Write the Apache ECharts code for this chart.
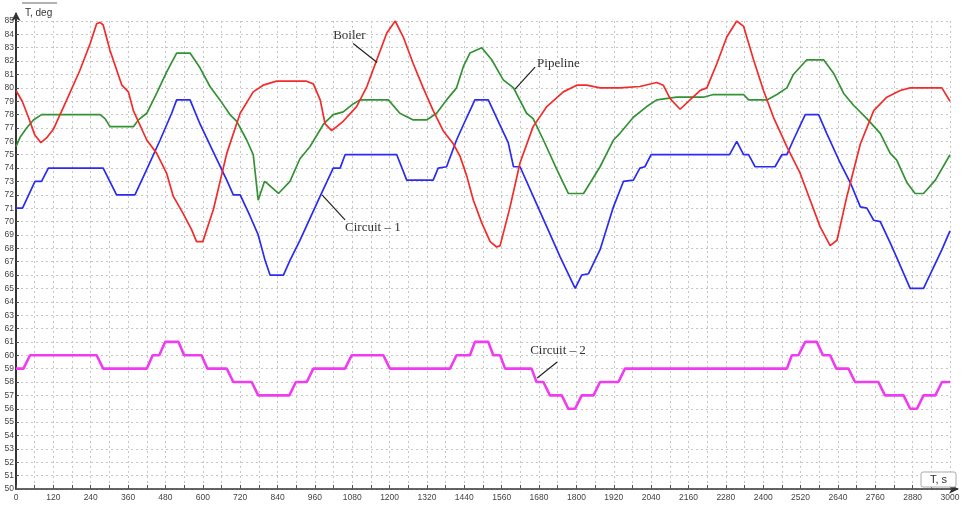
<!DOCTYPE html>
<html>
<head>
<meta charset="utf-8">
<script src="https://cdn.jsdelivr.net/npm/echarts@6/dist/echarts.min.js"></script>
<style>
  html, body { margin: 0; padding: 0; background: #fff; }
  #chart { width: 963px; height: 507px; }
</style>
</head>
<body>
<div id="chart"></div>
<script>
// time, s  /  temperature, deg
const boilerTime = [0, 20, 40, 60, 80, 100, 120, 163, 205, 238, 259, 270, 280, 302, 340, 361, 377, 420, 452, 484, 505, 537, 564, 580, 600, 634, 677, 720, 762, 794, 837, 933, 955, 977, 993, 1014, 1051, 1094, 1127, 1159, 1191, 1218, 1244, 1276, 1308, 1340, 1372, 1405, 1426, 1448, 1469, 1496, 1523, 1544, 1555, 1587, 1619, 1661, 1705, 1758, 1801, 1833, 1876, 1940, 2004, 2058, 2079, 2101, 2133, 2165, 2197, 2219, 2251, 2283, 2315, 2337, 2369, 2401, 2433, 2476, 2519, 2551, 2583, 2615, 2637, 2669, 2712, 2755, 2797, 2840, 2872, 2974, 3000];
const boilerTemp = [79.8, 79.0, 77.8, 76.5, 75.9, 76.3, 76.9, 79.1, 81.3, 83.3, 84.8, 84.9, 84.7, 82.8, 80.2, 79.7, 78.3, 76.1, 75.1, 73.6, 71.9, 70.6, 69.4, 68.5, 68.5, 70.9, 75.1, 78.1, 79.7, 80.2, 80.5, 80.5, 80.3, 79.1, 77.3, 76.8, 77.5, 78.6, 80.1, 82.1, 84.1, 85.0, 83.8, 81.8, 80.0, 78.3, 76.8, 75.8, 74.9, 73.4, 71.6, 69.9, 68.5, 68.1, 68.2, 71.1, 74.4, 77.1, 78.6, 79.7, 80.2, 80.2, 80.0, 80.0, 80.1, 80.4, 80.2, 79.2, 78.4, 79.1, 79.8, 80.0, 81.8, 83.8, 85.0, 84.6, 82.1, 79.8, 77.8, 75.6, 73.6, 71.6, 69.6, 68.2, 68.6, 71.9, 75.8, 78.3, 79.3, 79.8, 80.0, 80.0, 79.0];

const pipelineTime = [0, 13, 34, 56, 82, 270, 286, 302, 377, 393, 420, 452, 484, 516, 559, 591, 623, 655, 687, 709, 741, 762, 778, 798, 805, 843, 880, 912, 944, 988, 1019, 1051, 1083, 1105, 1196, 1233, 1276, 1319, 1351, 1383, 1415, 1437, 1458, 1496, 1528, 1565, 1598, 1640, 1661, 1694, 1737, 1774, 1823, 1876, 1919, 1940, 1983, 2026, 2058, 2122, 2208, 2240, 2337, 2353, 2412, 2444, 2476, 2497, 2540, 2594, 2626, 2658, 2690, 2733, 2776, 2808, 2829, 2862, 2888, 2915, 2953, 3000];
const pipelineTemp = [75.6, 76.3, 77.0, 77.6, 78.0, 78.0, 77.7, 77.1, 77.1, 77.6, 78.1, 79.6, 81.2, 82.6, 82.6, 81.5, 80.1, 79.1, 78.0, 77.5, 76.1, 75.0, 71.6, 73.0, 72.9, 72.1, 73.0, 74.7, 75.6, 77.3, 78.0, 78.2, 78.8, 79.1, 79.1, 78.1, 77.6, 77.6, 78.1, 79.1, 80.0, 81.6, 82.6, 83.0, 82.1, 80.6, 80.0, 78.1, 77.7, 76.1, 73.9, 72.1, 72.1, 74.1, 76.1, 76.6, 77.8, 78.6, 79.1, 79.3, 79.3, 79.5, 79.5, 79.1, 79.1, 79.5, 80.0, 81.0, 82.1, 82.1, 81.1, 79.6, 78.7, 77.7, 76.6, 75.1, 74.6, 72.9, 72.1, 72.1, 73.1, 75.0];

const circuit1Time = [0, 21, 61, 82, 104, 280, 323, 382, 420, 463, 500, 516, 559, 591, 634, 677, 698, 720, 752, 778, 800, 816, 859, 880, 912, 977, 1019, 1041, 1057, 1223, 1255, 1340, 1356, 1383, 1415, 1448, 1474, 1517, 1555, 1581, 1598, 1619, 1661, 1705, 1747, 1796, 1817, 1839, 1876, 1919, 1951, 1983, 2004, 2020, 2040, 2292, 2315, 2337, 2353, 2374, 2438, 2460, 2476, 2497, 2535, 2578, 2604, 2647, 2680, 2712, 2733, 2755, 2776, 2808, 2829, 2872, 2915, 2974, 3000];
const circuit1Temp = [71.0, 71.0, 73.0, 73.0, 74.0, 74.0, 72.0, 72.0, 73.9, 76.1, 78.1, 79.1, 79.1, 77.3, 75.2, 73.1, 72.0, 72.0, 70.4, 69.0, 67.1, 66.0, 66.0, 67.1, 68.6, 71.9, 74.0, 74.0, 75.0, 75.0, 73.1, 73.1, 74.0, 74.1, 76.1, 77.8, 79.1, 79.1, 77.2, 75.9, 74.1, 74.1, 71.9, 69.6, 67.4, 65.0, 66.0, 66.1, 67.9, 71.1, 73.0, 73.1, 74.0, 74.1, 75.0, 75.0, 76.0, 75.0, 75.0, 74.1, 74.1, 75.0, 75.0, 76.1, 78.0, 78.0, 76.6, 74.4, 72.9, 71.1, 71.0, 70.1, 70.0, 68.4, 67.3, 65.0, 65.0, 67.9, 69.3];

const circuit2Time = [0, 24, 45, 259, 280, 420, 439, 460, 479, 522, 540, 596, 615, 677, 698, 757, 778, 878, 899, 934, 955, 1057, 1078, 1180, 1201, 1394, 1415, 1458, 1474, 1517, 1533, 1555, 1571, 1656, 1672, 1694, 1715, 1753, 1774, 1796, 1817, 1855, 1876, 1935, 1956, 2476, 2492, 2513, 2535, 2572, 2592, 2615, 2635, 2674, 2695, 2770, 2791, 2851, 2872, 2894, 2915, 2953, 2974, 3000];
const circuit2Temp = [59, 59, 60, 60, 59, 59, 60, 60, 61, 61, 60, 60, 59, 59, 58, 58, 57, 57, 58, 58, 59, 59, 60, 60, 59, 59, 60, 60, 61, 61, 60, 60, 59, 59, 58, 58, 57, 57, 56, 56, 57, 57, 58, 58, 59, 59, 60, 60, 61, 61, 60, 60, 59, 59, 58, 58, 57, 57, 56, 56, 57, 57, 58, 58];

const zip = (ts, vs) => ts.map((t, i) => [t, vs[i]]);

const chart = echarts.init(document.getElementById('chart'));
const axisFont = 'Liberation Sans, Arial, sans-serif';
const dashed = { color: '#c6c6c6', width: 1, type: [2, 3] };

function line(name, color, width, data) {
  return {
    name: name,
    type: 'line',
    data: data,
    showSymbol: false,
    lineStyle: { color: color, width: width },
    itemStyle: { color: color },
    z: 3
  };
}

chart.setOption({
  animation: false,
  backgroundColor: '#fff',
  grid: { left: 16, right: 13, top: 21, bottom: 18 },
  xAxis: {
    type: 'value',
    min: 0,
    max: 3000,
    interval: 120,
    axisLine: {
      lineStyle: { color: '#333', width: 1.5 },
      symbol: ['none', 'arrow'],
      symbolSize: [7, 10],
      symbolOffset: [0, 9]
    },
    axisTick: { inside: true, length: 4, lineStyle: { color: '#555' } },
    minorTick: { show: true, splitNumber: 2, length: 4, lineStyle: { color: '#555' } },
    axisLabel: {
      color: '#444', fontSize: 8.5, fontFamily: axisFont, margin: 4,
      formatter: function (v) { return String(v); }
    },
    splitLine: { show: true, lineStyle: dashed },
    minorSplitLine: { show: true, lineStyle: dashed }
  },
  yAxis: {
    type: 'value',
    min: 50,
    max: 85,
    interval: 1,
    axisLine: {
      show: true,
      lineStyle: { color: '#333', width: 2 },
      symbol: ['none', 'arrow'],
      symbolSize: [7, 9],
      symbolOffset: [0, 9]
    },
    axisTick: { show: true, inside: true, length: 3, lineStyle: { color: '#555' } },
    axisLabel: { color: '#444', fontSize: 8.5, fontFamily: axisFont, margin: 2 },
    splitLine: { show: true, lineStyle: dashed }
  },
  series: [
    line('Pipeline', '#359135', 1.7, zip(pipelineTime, pipelineTemp)),
    line('Circuit – 1', '#2b2bf2', 1.7, zip(circuit1Time, circuit1Temp)),
    line('Boiler', '#f22b2b', 1.7, zip(boilerTime, boilerTemp)),
    line('Circuit – 2', '#f03cf0', 2.6, zip(circuit2Time, circuit2Temp))
  ]
});

// leader-line annotations, anchored on the curves
const notes = [
  { text: 'Boiler', at: [1160, 81.9], dx: -24, dy: -19, tx: -44, ty: -27 },
  { text: 'Pipeline', at: [1603, 79.9], dx: 20, dy: -22, tx: 22, ty: -26 },
  { text: 'Circuit – 1', at: [983, 72.0], dx: 23, dy: 25, tx: 23, ty: 33 },
  { text: 'Circuit – 2', at: [1674, 58.3], dx: 20, dy: -16, tx: -7, ty: -27 }
];

const graphics = [
  // axis line stubs running up to the arrows
  { type: 'line', shape: { x1: 16, y1: 21, x2: 16, y2: 13 }, style: { stroke: '#333', lineWidth: 2 } },
  { type: 'line', shape: { x1: 950, y1: 489, x2: 958, y2: 489 }, style: { stroke: '#333', lineWidth: 1.5 } },
  // axis names
  { type: 'line', shape: { x1: 22, y1: 3, x2: 57, y2: 3 }, style: { stroke: '#9a9a9a', lineWidth: 1.5 } },
  { type: 'text', x: 25, y: 13, style: { text: 'T, deg', font: '10px Liberation Sans', fill: '#333', verticalAlign: 'middle' } },
  { type: 'rect', shape: { x: 921, y: 472, width: 35, height: 15, r: 2 }, style: { fill: '#fff', stroke: '#aaa', lineWidth: 1 }, z: 5 },
  { type: 'text', x: 938.5, y: 480, z: 6, style: { text: 'T, s', font: '11px Liberation Sans', fill: '#333', align: 'center', verticalAlign: 'middle' } }
];

notes.forEach(function (n) {
  const p = chart.convertToPixel({ gridIndex: 0 }, n.at);
  graphics.push({
    type: 'line', z: 10,
    shape: { x1: p[0], y1: p[1], x2: p[0] + n.dx, y2: p[1] + n.dy },
    style: { stroke: '#222', lineWidth: 1.2 }
  });
  graphics.push({
    type: 'text', z: 10,
    x: p[0] + n.tx, y: p[1] + n.ty,
    style: { text: n.text, font: '13px Liberation Serif', fill: '#333', verticalAlign: 'middle' }
  });
});

chart.setOption({ graphic: graphics });
</script>
</body>
</html>
